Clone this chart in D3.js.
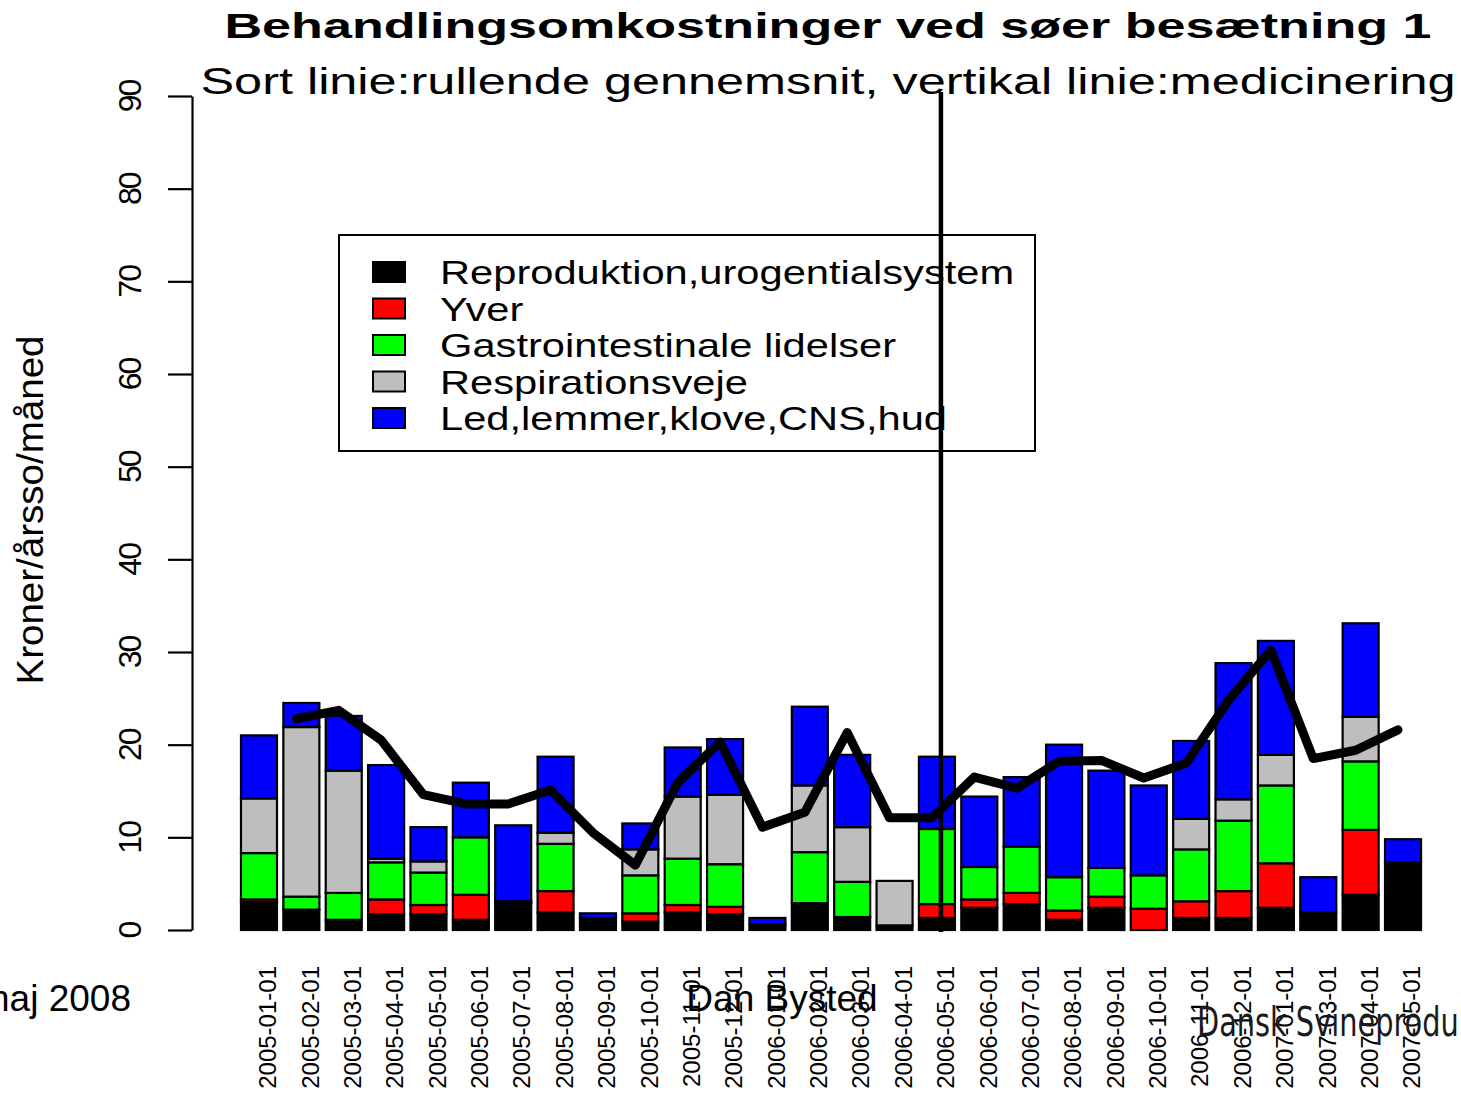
<!DOCTYPE html>
<html>
<head>
<meta charset="utf-8">
<script src="https://cdn.jsdelivr.net/npm/d3@7"></script>
<style>
  body { margin: 0; background: #fff; }
  svg { display: block; font-family: "Liberation Sans", Arial, Helvetica, sans-serif; }
</style>
</head>
<body>
<script>
// months on the x axis (2007-02 is missing in the source)
var months = ["2005-01-01","2005-02-01","2005-03-01","2005-04-01","2005-05-01","2005-06-01",
  "2005-07-01","2005-08-01","2005-09-01","2005-10-01","2005-11-01","2005-12-01",
  "2006-01-01","2006-02-01","2006-03-01","2006-04-01","2006-05-01","2006-06-01",
  "2006-07-01","2006-08-01","2006-09-01","2006-10-01","2006-11-01","2006-12-01",
  "2007-01-01","2007-03-01","2007-04-01","2007-05-01"];

// stacked series, bottom to top
var reproduktion = [3.0,2.2,1.1,1.7,1.7,1.1,2.9,1.9,1.3,0.9,1.9,1.7,0.6,2.9,1.4,0.5,1.3,2.4,2.8,1.1,2.4,0,1.3,1.3,2.4,1.9,3.8,7.3];
var yver         = [0.3,0,0,1.6,1.0,2.7,0.2,2.3,0,0.9,0.8,0.8,0,0,0,0,1.5,0.9,1.2,1.0,1.2,2.3,1.8,2.9,4.8,0,7.0,0];
var gastro       = [5.0,1.4,2.9,4.0,3.5,6.2,0,5.1,0,4.1,5.0,4.6,0,5.5,3.8,0,8.1,3.5,5.0,3.6,3.1,3.6,5.6,7.6,8.4,0,7.4,0];
var respiration  = [5.9,18.3,13.2,0.4,1.2,0,0,1.2,0,2.8,6.7,7.5,0,7.2,5.9,4.8,0,0,0,0,0,0,3.3,2.3,3.3,0,4.8,0];
var led          = [6.8,2.6,5.9,10.1,3.7,5.9,8.2,8.2,0.5,2.8,5.3,6.0,0.7,8.5,7.8,0,7.8,7.6,7.5,14.3,10.5,9.7,8.4,14.7,12.3,3.8,10.1,2.5];

// rolling average (starts at the second month)
var rolling = [null,22.8,23.7,20.5,14.6,13.6,13.6,15.1,10.5,7.0,15.9,20.3,11.1,12.7,21.3,12.1,12.1,16.5,15.3,18.2,18.3,16.4,18.0,24.8,30.2,18.5,19.4,21.6];

var medicinering = "2006-05-01";

var seriesNames = ["Reproduktion,urogentialsystem","Yver","Gastrointestinale lidelser","Respirationsveje","Led,lemmer,klove,CNS,hud"];
var seriesColors = ["#000000","#ff0000","#00ff00","#bebebe","#0000ff"];
var yTicks = [0,10,20,30,40,50,60,70,80,90];

var W = 1461, H = 1095;

var svg = d3.select("body").append("svg")
    .attr("width", W)
    .attr("height", H);

// R's png text comes out wider than the font's own metrics: stretch it
function stretch(sel, factor) {
  sel.each(function() {
    var len = this.getComputedTextLength();
    d3.select(this)
      .attr("textLength", len * factor)
      .attr("lengthAdjust", "spacingAndGlyphs");
  });
}

// build table for the stack
var keys = ["reproduktion","yver","gastro","respiration","led"];
var cols = [reproduktion, yver, gastro, respiration, led];
var table = months.map(function(m, i) {
  var row = {month: m};
  keys.forEach(function(k, j) { row[k] = cols[j][i]; });
  return row;
});
var stacked = d3.stack().keys(keys)(table);

// scales
var x = d3.scaleBand().domain(months)
    .range([237.8, 1424.2])
    .paddingInner(0.15)
    .paddingOuter(0.075);
var y = d3.scaleLinear().domain([0, 90]).range([930, 96]);

// bars
svg.append("g").selectAll("g")
  .data(stacked)
  .enter().append("g")
    .attr("fill", function(d, i) { return seriesColors[i]; })
  .selectAll("rect")
  .data(function(d) { return d; })
  .enter().append("rect")
    .attr("x", function(d) { return x(d.data.month); })
    .attr("y", function(d) { return y(d[1]); })
    .attr("width", x.bandwidth())
    .attr("height", function(d) { return y(d[0]) - y(d[1]); })
    .attr("stroke", "#000")
    .attr("stroke-width", 2.2);

// y axis
var yAxis = svg.append("g")
    .attr("transform", "translate(192,0)")
    .call(d3.axisLeft(y).tickValues(yTicks).tickSize(24).tickSizeOuter(0));
yAxis.select(".domain").attr("stroke-width", 2.2);
yAxis.selectAll(".tick line").attr("stroke-width", 2.2);
yAxis.selectAll(".tick text")
    .attr("transform", "rotate(-90)")
    .attr("x", 0)
    .attr("y", -51)
    .attr("dy", 0)
    .attr("text-anchor", "middle")
    .attr("fill", "#000")
    .style("font-size", "32px")
    .style("letter-spacing", "-2px")
    .style("font-family", "'Liberation Sans', Arial, sans-serif");

// x axis labels
var xAxis = svg.append("g")
    .attr("transform", "translate(0,966)")
    .call(d3.axisBottom(x).tickSize(0));
xAxis.select(".domain").remove();
xAxis.selectAll(".tick text")
    .attr("transform", "rotate(-90)")
    .attr("x", 0)
    .attr("y", 0)
    .attr("dy", "0.72em")
    .attr("text-anchor", "end")
    .attr("fill", "#000")
    .style("font-size", "24px")
    .style("font-family", "'Liberation Sans', Arial, sans-serif");

// legend
var legend = svg.append("g");
legend.append("rect")
    .attr("x", 339).attr("y", 235)
    .attr("width", 696).attr("height", 216)
    .attr("fill", "#fff")
    .attr("stroke", "#000")
    .attr("stroke-width", 2);
var item = legend.selectAll("g.item")
  .data(seriesNames)
  .enter().append("g")
    .attr("class", "item")
    .attr("transform", function(d, i) { return "translate(0," + (272 + i * 36.5) + ")"; });
item.append("rect")
    .attr("x", 373).attr("y", -10)
    .attr("width", 32).attr("height", 20)
    .attr("fill", function(d, i) { return seriesColors[i]; })
    .attr("stroke", "#000")
    .attr("stroke-width", 2);
item.append("text")
    .attr("x", 440).attr("y", 12)
    .style("font-size", "34px")
    .text(function(d) { return d; })
    .call(stretch, 1.225);

// vertical medication line
svg.append("line")
    .attr("x1", x(medicinering) + x.bandwidth() / 2 + 4)
    .attr("x2", x(medicinering) + x.bandwidth() / 2 + 4)
    .attr("y1", 92).attr("y2", 932)
    .attr("stroke", "#000")
    .attr("stroke-width", 4.5);

// rolling average line
var line = d3.line()
    .defined(function(d) { return d != null; })
    .x(function(d, i) { return x(months[i]) + x.bandwidth() / 2 - 5; })
    .y(function(d) { return y(d); });
svg.append("path")
    .datum(rolling)
    .attr("d", line)
    .attr("fill", "none")
    .attr("stroke", "#000")
    .attr("stroke-width", 9)
    .attr("stroke-linejoin", "round")
    .attr("stroke-linecap", "round");

// titles
svg.append("text")
    .attr("x", 828).attr("y", 38)
    .attr("text-anchor", "middle")
    .attr("textLength", 1207)
    .attr("lengthAdjust", "spacingAndGlyphs")
    .style("font-size", "35px")
    .style("font-weight", "bold")
    .text("Behandlingsomkostninger ved søer besætning 1");
svg.append("text")
    .attr("x", 828).attr("y", 94)
    .attr("text-anchor", "middle")
    .attr("textLength", 1255)
    .attr("lengthAdjust", "spacingAndGlyphs")
    .style("font-size", "36px")
    .text("Sort linie:rullende gennemsnit, vertikal linie:medicinering");

// y label
svg.append("text")
    .attr("transform", "translate(43,510) rotate(-90)")
    .attr("text-anchor", "middle")
    .style("font-size", "36px")
    .text("Kroner/årsso/måned")
    .call(stretch, 1.07);

// footer texts
svg.append("text")
    .attr("x", 131).attr("y", 1011)
    .attr("text-anchor", "end")
    .style("font-size", "37px")
    .text("maj 2008");
svg.append("text")
    .attr("x", 782).attr("y", 1011)
    .attr("text-anchor", "middle")
    .style("font-size", "37px")
    .text("Dan Bysted");
svg.append("text")
    .attr("transform", "translate(1197,1036) scale(0.8,1)")
    .attr("fill", "#1a1a1a")
    .style("font-family", "'DejaVu Sans', sans-serif")
    .style("font-stretch", "condensed")
    .style("font-size", "40px")
    .text("Dansk Svineproduktion");
</script>
</body>
</html>
